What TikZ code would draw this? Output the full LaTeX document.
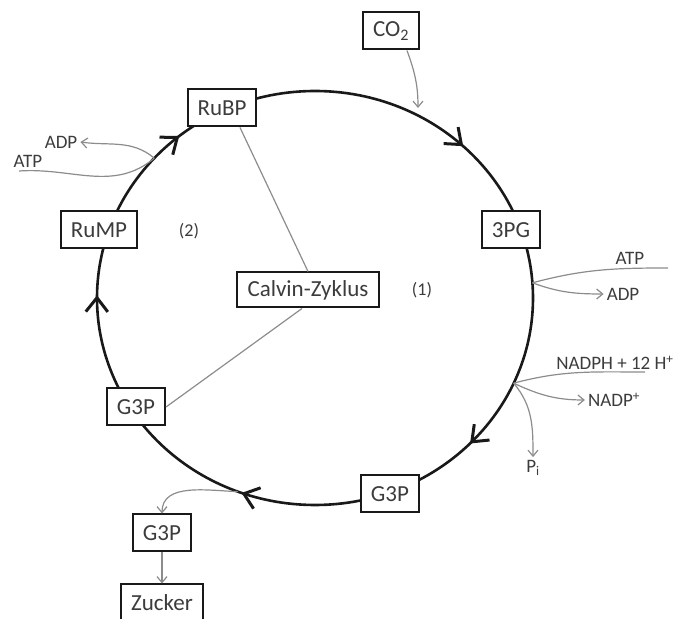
\documentclass[tikz,border=0pt]{standalone}
\usepackage{fontspec}
\setmainfont{Carlito}
\usetikzlibrary{arrows.meta,decorations.markings}
\definecolor{txtgray}{RGB}{60,60,60}
\definecolor{linegray}{RGB}{140,140,140}
\tikzset{
  stepbox/.style={draw=black!90, line width=2pt, fill=white, text=txtgray,
    minimum height=37pt, inner xsep=10pt, font=\fontsize{23}{27}\selectfont},
  sideline/.style={draw=linegray, line width=1.2pt},
  sidearrow/.style={sideline, -{Straight Barb[length=6pt,width=10pt]}},
  sidelabel/.style={text=txtgray, inner sep=3pt, font=\fontsize{19}{23}\selectfont},
  cyclemark/.style={decoration={markings,
    mark=at position 0.122 with {\arrow{Straight Barb[length=14pt,width=22pt,line width=3pt]}},
    mark=at position 0.306 with {\arrow{Straight Barb[length=14pt,width=22pt,line width=3pt]}},
    mark=at position 0.502 with {\arrow{Straight Barb[length=14pt,width=22pt,line width=3pt]}},
    mark=at position 0.641 with {\arrow{Straight Barb[length=14pt,width=22pt,line width=3pt]}},
    mark=at position 0.871 with {\arrow{Straight Barb[length=14pt,width=22pt,line width=3pt]}}},
    postaction={decorate}}
}
\begin{document}
\begin{tikzpicture}[x=1pt,y=1pt]
    \useasboundingbox (0,0) rectangle (678,619);

    % Draw cycle
    \coordinate (c) at (315,321);
    \draw[black!90, line width=2.6pt, cyclemark] (533,321) arc[start angle=0, end angle=-360, x radius=218, y radius=207];

    % Points on the cycle
    \coordinate (jleft) at ([shift={(137.5:218 and 207)}]c);
    \coordinate (jright) at ([shift={(4.2:218 and 207)}]c);
    \coordinate (jnadph) at ([shift={(-24.3:218 and 207)}]c);
    \coordinate (jsugar) at ([shift={(249.3:218 and 207)}]c);
    \coordinate (jco2) at (418,511);

    % Boxes
    \node[stepbox] (co2) at (391,588) {CO\textsubscript{2}};
    \node[stepbox] (rubp) at (222,511) {RuBP};
    \node[stepbox] (rump) at (99,389) {RuMP};
    \node[stepbox] (pg3) at (511,389) {3PG};
    \node[stepbox, minimum height=35pt, inner xsep=11pt] (calvin) at (308,329) {Calvin-Zyklus};
    \node[stepbox] (g3pl) at (136,212) {G3P};
    \node[stepbox] (g3pb) at (390,125) {G3P};
    \node[stepbox] (g3p) at (162,86) {G3P};
    \node[stepbox] (zucker) at (162,16) {Zucker};

    % Phase labels
    \node[sidelabel, font=\fontsize{18}{22}\selectfont] (ph1) at (422,329) {(1)};
    \node[sidelabel, font=\fontsize{18}{22}\selectfont] (ph2) at (189,388) {(2)};

    % Side labels
    \node[sidelabel] (atpl) at (28,458) {ATP};
    \node[sidelabel] (adpl) at (61,477) {ADP};
    \node[sidelabel] (atpr) at (630,361) {ATP};
    \node[sidelabel] (adpr) at (623,325) {ADP};
    \node[sidelabel] (nadph) at (615,256) {NADPH + 12 H\textsuperscript{+}};
    \node[sidelabel] (nadp) at (614,219) {NADP\textsuperscript{+}};
    \node[sidelabel] (pi) at (533,151) {P\textsubscript{i}};
    \coordinate (atpinl) at (19,448);
    \coordinate (atpinr) at (668,351);
    \coordinate (nadphin) at (645,247);

    % Calvin-Zyklus links
    \draw[sideline] ([xshift=18pt]rubp.south) -- (calvin.north);
    \draw[sideline] ([xshift=-6pt]calvin.south) -- (g3pl.east);

    % Inputs and outputs
    \draw[sidearrow] ([xshift=16pt]co2.south) to[out=-70,in=90] (jco2);
    \draw[sideline] (atpinl) to[out=4,in=-140] (jleft);
    \draw[sidearrow] (jleft) to[out=140,in=-8] (adpl.east);
    \draw[sideline] (atpinr) to[out=180,in=15] (jright);
    \draw[sidearrow] (jright) to[out=-20,in=180] (adpr.west);
    \draw[sideline] (nadphin) to[out=180,in=15] (jnadph);
    \draw[sidearrow] (jnadph) to[out=-25,in=180] (nadp.west);
    \draw[sidearrow] (jnadph) to[out=-50,in=90] (pi.north);
    \draw[sidearrow] (jsugar) to[out=178,in=90] (g3p.north);
    \draw[sidearrow] (g3p) -- (zucker);
\end{tikzpicture}
\end{document}
